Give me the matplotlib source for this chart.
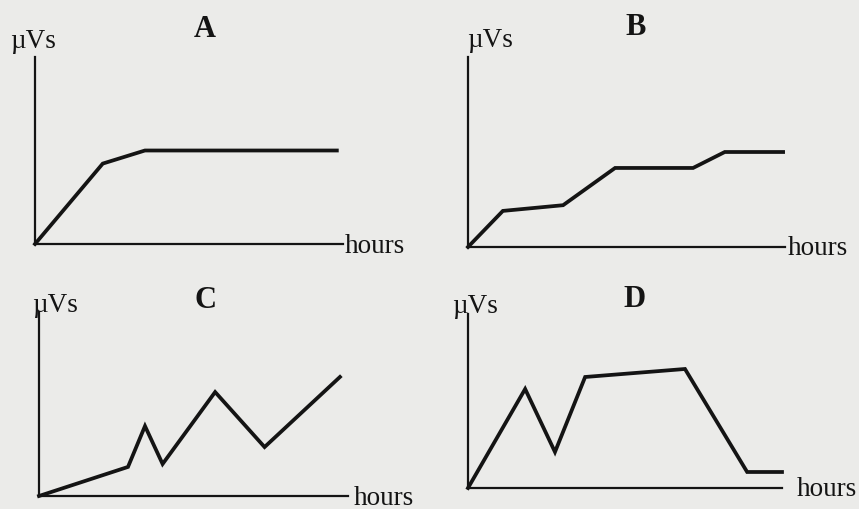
import matplotlib.pyplot as plt

plt.rcParams['font.family'] = ['Liberation Serif', 'DejaVu Serif']

# curves for the four panels, time (hours) vs. µVs, both in arbitrary units 0-10
hours_a = [0, 2.2, 3.57, 9.8]
uvs_a = [0, 4.3, 5.0, 5.0]

hours_b = [0, 1.1, 3.0, 4.64, 7.1, 8.1, 9.94]
uvs_b = [0, 1.9, 2.2, 4.16, 4.16, 5.0, 5.0]

hours_c = [0, 2.88, 3.43, 4.0, 5.7, 7.3, 9.74]
uvs_c = [0, 1.58, 3.8, 1.74, 5.65, 2.66, 6.47]

hours_d = [0, 1.82, 2.77, 3.73, 6.91, 8.89, 10]
uvs_d = [0, 5.69, 2.07, 6.38, 6.84, 0.92, 0.92]

panel_names = ['A', 'B', 'C', 'D']

W, H = 859, 510
bg = '#ebebe9'
ink = '#141414'

fig = plt.figure(figsize=(W / 100, H / 100), dpi=100, facecolor=bg)

# (origin x, origin y, axis length x, axis height y) in pixels, plus label offsets
panels = [
    dict(box=(35, 245, 308, 187), x=hours_a, y=uvs_a,
         uvs=(-0.081, 1.09), hrs=(1.006, -0.01), title=(0.55, 1.15)),
    dict(box=(468, 248, 317, 190), x=hours_b, y=uvs_b,
         uvs=(-0.003, 1.09), hrs=(1.01, -0.005), title=(0.53, 1.16)),
    dict(box=(39, 497, 309, 184), x=hours_c, y=uvs_c,
         uvs=(-0.023, 1.04), hrs=(1.02, -0.01), title=(0.54, 1.07)),
    dict(box=(468, 489, 314, 174), x=hours_d, y=uvs_d,
         uvs=(-0.05, 1.05), hrs=(1.046, -0.005), title=(0.53, 1.09)),
]

for name, p in zip(panel_names, panels):
    x0, y0, w, h = p['box']
    ax = fig.add_axes([x0 / W, (H - y0) / H, w / W, h / H])
    ax.set_facecolor('none')
    ax.plot(p['x'], p['y'], color=ink, lw=2.7, solid_joinstyle='miter', clip_on=False)
    ax.set_xlim(0, 10)
    ax.set_ylim(0, 10)
    for side in ['top', 'right']:
        ax.spines[side].set_visible(False)
    for side in ['left', 'bottom']:
        ax.spines[side].set_linewidth(1.6)
        ax.spines[side].set_color(ink)
    ax.set_xticks([])
    ax.set_yticks([])
    ax.text(*p['uvs'], 'µVs', transform=ax.transAxes, fontsize=19.5,
            ha='left', va='center', color=ink)
    ax.text(*p['hrs'], 'hours', transform=ax.transAxes, fontsize=19.5,
            ha='left', va='center', color=ink)
    ax.text(*p['title'], name, transform=ax.transAxes, fontsize=22,
            fontweight='bold', ha='center', va='center', color=ink)

fig.savefig('out.png', dpi=100, facecolor=bg)
